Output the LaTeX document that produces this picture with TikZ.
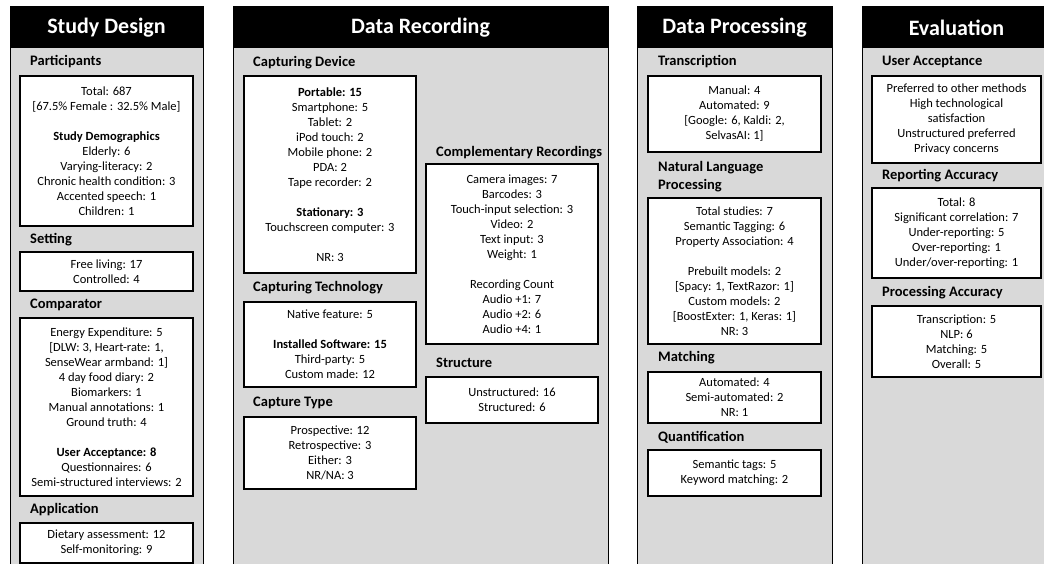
\documentclass[tikz,border=0pt]{standalone}
\usepackage{fontspec}
\setmainfont{Carlito}
\usepackage{tikz}
\usetikzlibrary{positioning}
\definecolor{panelgray}{RGB}{217,217,217}

\begin{document}
\begin{tikzpicture}[x=1pt, y=-1pt,
  panel/.style={draw=black, fill=panelgray, line width=1pt},
  head/.style={fill=black, text=white, inner sep=0pt, minimum height=41, font=\fontsize{22}{26}\selectfont\bfseries},
  sec/.style={anchor=west, inner sep=0pt, align=left, font=\fontsize{14.5}{18}\selectfont\bfseries},
  box/.style={draw=black, fill=white, line width=1.2pt, inner sep=0pt, align=center, font=\fontsize{12.5}{15}\selectfont}]
  \useasboundingbox (0,0) rectangle (1044,564);
  \fill[white] (0,0) rectangle (1044,564);
  \clip (0,0) rectangle (1044,564);

  % panels
  \draw[panel] (10,7) rectangle (203,580);
  \draw[panel] (233,7) rectangle (608,580);
  \draw[panel] (637,7) rectangle (832,580);
  \draw[panel] (862,7) rectangle (1051,580);
  \node[head, minimum width=193] (sdhead) at (106.5,27.5) {Study Design};
  \node[head, minimum width=375] (drhead) at (420.5,27.5) {Data Recording};
  \node[head, minimum width=195] (dphead) at (734.5,27.5) {Data Processing};
  \node[head, minimum width=189] (evhead) at (956.5,27.5) {Evaluation};

  % study design
  \node[sec] (partlbl) at (30,62) {Participants};
  \node[box, minimum width=173, minimum height=150] (part) at (106.5,151) {Total: 687\\{}[67.5\% Female : 32.5\% Male]\\[15pt]\textbf{Study Demographics}\\Elderly: 6\\Varying-literacy: 2\\Chronic health condition: 3\\Accented speech: 1\\Children: 1};
  \node[sec] (settlbl) at (30,240) {Setting};
  \node[box, minimum width=173, minimum height=39] (sett) at (106.5,271.5) {Free living: 17\\Controlled: 4};
  \node[sec] (complbl) at (30,305) {Comparator};
  \node[box, minimum width=173, minimum height=178] (comp) at (106.5,407) {Energy Expenditure: 5\\{}[DLW: 3, Heart-rate: 1,\\SenseWear armband: 1]\\4 day food diary: 2\\Biomarkers: 1\\Manual annotations: 1\\Ground truth: 4\\[15pt]\textbf{User Acceptance: 8}\\Questionnaires: 6\\Semi-structured interviews: 2};
  \node[sec] (appllbl) at (30,510) {Application};
  \node[box, minimum width=173, minimum height=40] (appl) at (106.5,543) {Dietary assessment: 12\\Self-monitoring: 9};

  % data recording
  \node[sec] (devlbl) at (253,63) {Capturing Device};
  \node[box, minimum width=172, minimum height=197] (dev) at (330,174.5) {\textbf{Portable: 15}\\Smartphone: 5\\Tablet: 2\\iPod touch: 2\\Mobile phone: 2\\PDA: 2\\Tape recorder: 2\\[15pt]\textbf{Stationary: 3}\\Touchscreen computer: 3\\[15pt]NR: 3};
  \node[sec] (techlbl) at (253,288) {Capturing Technology};
  \node[box, minimum width=172, minimum height=85] (tech) at (330,344.5) {Native feature: 5\\[15pt]\textbf{Installed Software: 15}\\Third-party: 5\\Custom made: 12};
  \node[sec] (typelbl) at (253,403) {Capture Type};
  \node[box, minimum width=172, minimum height=72] (ctype) at (330,453) {Prospective: 12\\Retrospective: 3\\Either: 3\\NR/NA: 3};
  \node[sec] (recslbl) at (436,153) {Complementary Recordings};
  \node[box, minimum width=172, minimum height=180] (recs) at (512,254) {Camera images: 7\\Barcodes: 3\\Touch-input selection: 3\\Video: 2\\Text input: 3\\Weight: 1\\[15pt]Recording Count\\Audio +1: 7\\Audio +2: 6\\Audio +4: 1};
  \node[sec] (struclbl) at (436,363) {Structure};
  \node[box, minimum width=172, minimum height=46] (struc) at (512,400) {Unstructured: 16\\Structured: 6};

  % data processing
  \node[sec] (translbl) at (658,62) {Transcription};
  \node[box, minimum width=173, minimum height=76] (trans) at (734.5,114) {Manual: 4\\Automated: 9\\{}[Google: 6, Kaldi: 2,\\SelvasAI: 1]};
  \node[sec] (nlplbl) at (658,177) {Natural Language\\Processing};
  \node[box, minimum width=173, minimum height=146] (nlp) at (734.5,271) {Total studies: 7\\Semantic Tagging: 6\\Property Association: 4\\[15pt]Prebuilt models: 2\\{}[Spacy: 1, TextRazor: 1]\\Custom models: 2\\{}[BoostExter: 1, Keras: 1]\\NR: 3};
  \node[sec] (matchlbl) at (658,358) {Matching};
  \node[box, minimum width=173, minimum height=51] (match) at (734.5,397.5) {Automated: 4\\Semi-automated: 2\\NR: 1};
  \node[sec] (quantlbl) at (658,437) {Quantification};
  \node[box, minimum width=173, minimum height=46] (quant) at (734.5,473) {Semantic tags: 5\\Keyword matching: 2};

  % evaluation
  \node[sec] (ualbl) at (882,62) {User Acceptance};
  \node[box, minimum width=169, minimum height=87] (ua) at (956.5,119.5) {Preferred to other methods\\High technological\\satisfaction\\Unstructured preferred\\Privacy concerns};
  \node[sec] (ralbl) at (882,176) {Reporting Accuracy};
  \node[box, minimum width=169, minimum height=90] (ra) at (956.5,233) {Total: 8\\Significant correlation: 7\\Under-reporting: 5\\Over-reporting: 1\\Under/over-reporting: 1};
  \node[sec] (palbl) at (882,293) {Processing Accuracy};
  \node[box, minimum width=169, minimum height=71] (pa) at (956.5,341.5) {Transcription: 5\\NLP: 6\\Matching: 5\\Overall: 5};
\end{tikzpicture}
\end{document}
